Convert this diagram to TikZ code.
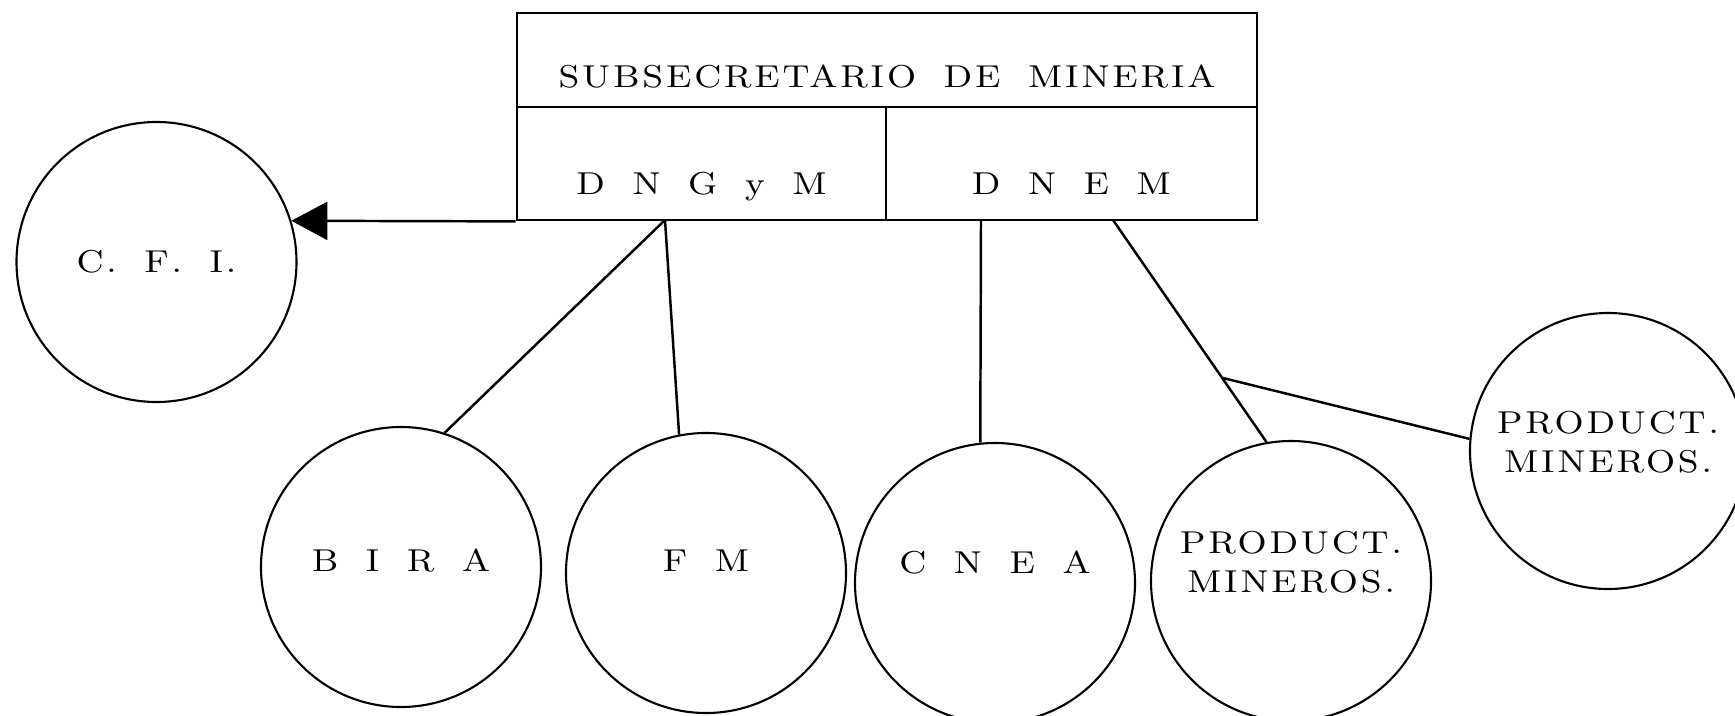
\documentclass[tikz,border=0pt]{standalone}
\usepackage{fontspec}
\usetikzlibrary{arrows.meta}
\newfontfamily\orgfont[FakeStretch=1.15,LetterSpace=9,WordSpace=1.8]{Latin Modern Roman}
\newcommand\orgtext{\orgfont\fontsize{9}{11}\selectfont}
\begin{document}
\begin{tikzpicture}[
  orgbox/.style={draw=linecolor,line width=0.8pt,rectangle,inner sep=0pt,font=\orgtext,text depth=0pt},
  orgcircle/.style={draw=linecolor,line width=0.6pt,circle,minimum size=2.80cm,inner sep=0pt,align=center,font=\orgtext},
  orgline/.style={line width=0.7pt,linecolor}]
\definecolor{linecolor}{RGB}{0,0,0}
\useasboundingbox (0,0) rectangle (17.35,7.15);
% boxes
\node (sub) at (8.87,6.55) [orgbox,minimum width=7.40cm,minimum height=0.94cm,text height=0.54cm] {SUBSECRETARIO DE MINERIA};
\node (dngym) at (7.015,5.515) [orgbox,minimum width=3.69cm,minimum height=1.13cm,text height=0.62cm] {D N G y M};
\node (dnem) at (10.715,5.515) [orgbox,minimum width=3.71cm,minimum height=1.13cm,text height=0.62cm] {D N E M};
% circles
\node (cfi) at (1.565,4.53) [orgcircle] {C. F. I.};
\node (bira) at (4.01,1.48) [orgcircle,text depth=0.14cm] {B I R A};
\node (fm) at (7.06,1.42) [orgcircle,text depth=0.24cm] {F M};
\node (cnea) at (9.95,1.32) [orgcircle,text depth=0.42cm] {C N E A};
\node (prodA) at (12.91,1.34) [orgcircle,text depth=0.38cm] {PRODUCT.\\MINEROS.};
\node (prodB) at (16.08,2.64) [orgcircle,minimum size=2.76cm,text depth=0.18cm] {PRODUCT.\\MINEROS.};
% connectors
\coordinate (g1) at (6.65,4.95);
\coordinate (e1) at (9.81,4.95);
\coordinate (e2) at (11.13,4.95);
\coordinate (split) at (12.23,3.37);
\draw (dngym.south west) [orgline,-{Triangle[length=3.6mm,width=3.8mm]}] -- (cfi.17);
\draw (g1) [orgline] -- (bira.72);
\draw (g1) [orgline] -- (fm.101);
\draw (e1) [orgline] -- (cnea.96);
\draw (e2) [orgline] -- (prodA.100);
\draw (split) [orgline] -- (prodB.175);
\end{tikzpicture}
\end{document}
